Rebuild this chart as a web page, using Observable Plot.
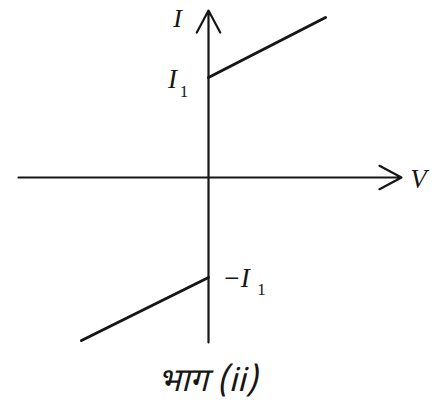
<!DOCTYPE html>
<html>
<head>
<meta charset="utf-8">
<script src="https://cdn.jsdelivr.net/npm/d3@7"></script>
<script src="https://cdn.jsdelivr.net/npm/@observablehq/plot@0.6"></script>
<style>
  html, body { margin: 0; padding: 0; background: #fff; }
  #chart svg { display: block; }
</style>
</head>
<body>
<div id="chart"></div>
<script>
// Current I versus voltage V: the current jumps to ±I1 at V = 0 and then rises linearly.
const I1 = 1;
const upperV = [0, 1.17];
const upperI = [I1, 1.60];
const lowerV = [-1.27, 0];
const lowerI = [-1.63, -I1];

// Axis extents (data units)
const axisV = [-1.90, 1.93];
const axisI = [-1.65, 1.67];

const axisLabels = ["V", "I"];
const tickLabels = ["I", "−I"];
const tickValues = [I1, -I1];
const caption = "भाग (ii)";

const ink = "#161616";
const serif = "'Liberation Serif', 'DejaVu Serif', serif";

const upper = upperV.map((v, i) => ({V: v, I: upperI[i]}));
const lower = lowerV.map((v, i) => ({V: v, I: lowerI[i]}));

const chart = Plot.plot({
  width: 435,
  height: 411,
  margin: 0,
  x: {domain: [-2.08, 2.27], axis: null},
  y: {domain: [-2.34, 1.77], axis: null},
  marks: [
    // horizontal V axis with arrowhead
    Plot.arrow([{x1: axisV[0], x2: axisV[1]}], {
      x1: "x1", x2: "x2", y1: 0, y2: 0,
      stroke: ink, strokeWidth: 2.2, headLength: 17, headAngle: 56
    }),
    // vertical I axis with arrowhead
    Plot.arrow([{y1: axisI[0], y2: axisI[1]}], {
      x1: 0, x2: 0, y1: "y1", y2: "y2",
      stroke: ink, strokeWidth: 2.2, headLength: 17, headAngle: 56
    }),
    Plot.line(upper, {x: "V", y: "I", stroke: ink, strokeWidth: 3}),
    Plot.line(lower, {x: "V", y: "I", stroke: ink, strokeWidth: 3}),
    // axis labels
    Plot.text([axisLabels[0]], {
      x: axisV[1] + 0.17, y: -0.02, text: d => d,
      fontFamily: serif, fontStyle: "italic", fontSize: 27, fill: ink
    }),
    Plot.text([axisLabels[1]], {
      x: -0.31, y: 1.59, text: d => d,
      fontFamily: serif, fontStyle: "italic", fontSize: 26, fill: ink
    }),
    // level labels: I1 and −I1
    Plot.text([tickLabels[0]], {
      x: -0.36, y: tickValues[0] - 0.02, text: d => d,
      fontFamily: serif, fontStyle: "italic", fontSize: 27, fill: ink
    }),
    Plot.text(["1"], {
      x: -0.245, y: tickValues[0] - 0.14, text: d => d,
      fontFamily: serif, fontSize: 17, fill: ink
    }),
    Plot.text([tickLabels[1]], {
      x: 0.14, y: tickValues[1] - 0.01, text: d => d, textAnchor: "start",
      fontFamily: serif, fontStyle: "italic", fontSize: 27, fill: ink
    }),
    Plot.text(["1"], {
      x: 0.53, y: tickValues[1] - 0.12, text: d => d,
      fontFamily: serif, fontSize: 17, fill: ink
    }),
    // caption
    Plot.text([caption], {
      x: -0.01, y: -2.03, text: d => d,
      fontFamily: "'Noto Sans Devanagari', 'Noto Serif Devanagari', 'Lohit Devanagari', 'FreeSerif', " + serif,
      fontStyle: "italic", fontSize: 33, fill: ink
    })
  ]
});

document.getElementById("chart").append(chart);
</script>
</body>
</html>
